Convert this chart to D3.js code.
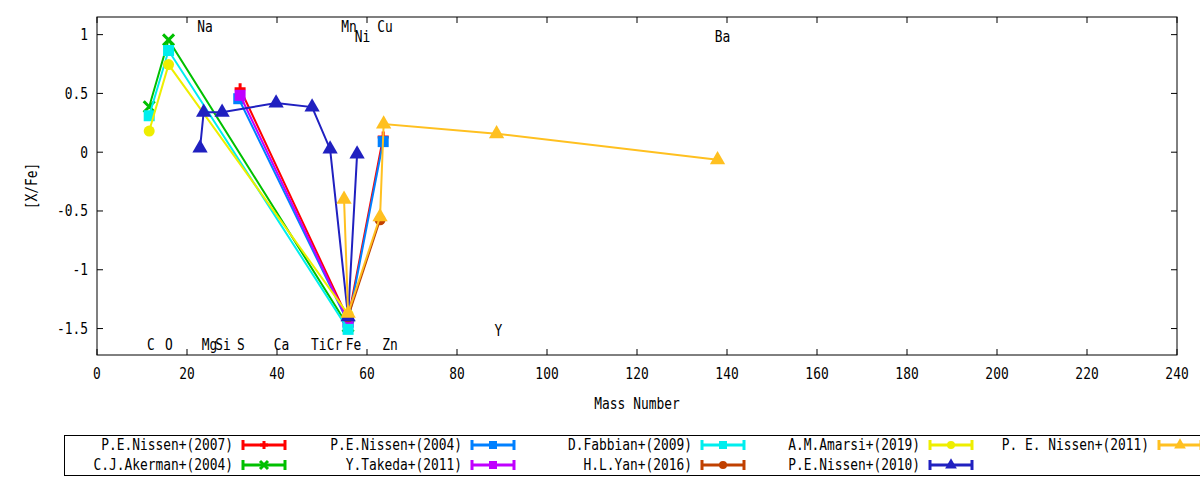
<!DOCTYPE html>
<html><head><meta charset="utf-8">
<script src="https://cdn.jsdelivr.net/npm/d3@7"></script>
<style>body{margin:0;background:#fff}svg text{font-family:"DejaVu Sans Mono",monospace;font-size:15px;fill:#000}</style>
</head><body><svg id="c" width="1200" height="480"></svg>
<script>
// ---- data ----
const seriesNames = ["P.E.Nissen+(2007)","C.J.Akerman+(2004)","P.E.Nissen+(2004)","Y.Takeda+(2011)","D.Fabbian+(2009)","H.L.Yan+(2016)","A.M.Amarsi+(2019)","P.E.Nissen+(2010)","P. E. Nissen+(2011)"];
const seriesColors = ["#ff0000","#00c000","#0080ff","#c000ff","#00eeee","#c04000","#eeee00","#2020c0","#ffc020"];
const seriesMarkers = ["plus","cross","square","square","square","circle","circle","triangle","triangle"];
const massNissen2007 = [31.8, 55.8, 63.6];
const valNissen2007  = [0.54, -1.42, 0.13];
const massAkerman2004 = [11.6, 15.9, 55.8];
const valAkerman2004  = [0.387, 0.955, -1.48];
const massNissen2004 = [31.5, 55.8, 63.6];
const valNissen2004  = [0.455, -1.45, 0.09];
const massTakeda2011 = [31.8, 55.8];
const valTakeda2011  = [0.484, -1.44];
const massFabbian2009 = [11.6, 15.9, 55.8];
const valFabbian2009  = [0.31, 0.865, -1.507];
const massYan2016 = [55.8, 62.9];
const valYan2016  = [-1.40, -0.575];
const massAmarsi2019 = [11.6, 15.9, 55.8];
const valAmarsi2019  = [0.18, 0.745, -1.38];
const massNissen2010 = [22.9, 23.7, 27.8, 39.8, 47.8, 51.8, 55.8, 57.8];
const valNissen2010  = [0.035, 0.34, 0.34, 0.418, 0.384, 0.026, -1.40, -0.016];
const massNissen2011 = [54.9, 55.8, 62.9, 63.7, 88.8, 137.9];
const valNissen2011  = [-0.40, -1.37, -0.55, 0.24, 0.157, -0.065];
const elemNames = ["Na","Mn","Cu","Ni","Ba","C","O","Mg","Si","S","Ca","Ti","Cr","Fe","Zn","Y"];
const elemMass  = [24, 56, 64, 59, 139, 12, 16, 25, 28, 32, 41, 49.3, 52.8, 57, 65.1, 89.2];
const elemY     = [1.068, 1.068, 1.068, 0.982, 0.982, -1.635, -1.635, -1.635, -1.635, -1.635, -1.635, -1.635, -1.635, -1.635, -1.635, -1.515];
const xTicks = [0,20,40,60,80,100,120,140,160,180,200,220,240];
const yTicks = [-1.5,-1,-0.5,0,0.5,1];
const xLabel = "Mass Number", yLabel = "[X/Fe]";

const seriesMass = [massNissen2007,massAkerman2004,massNissen2004,massTakeda2011,massFabbian2009,massYan2016,massAmarsi2019,massNissen2010,massNissen2011];
const seriesVal  = [valNissen2007,valAkerman2004,valNissen2004,valTakeda2011,valFabbian2009,valYan2016,valAmarsi2019,valNissen2010,valNissen2011];

const L=97,R=1177,T=17,B=355;
const svg=d3.select("#c");
const x=d3.scaleLinear().domain([0,240]).range([L,R]);
const y=d3.scaleLinear().domain([-1.725,1.15]).range([B,T]);
const SX=0.86;
function txt(g,px,py,s,anchor,rot){
  return g.append("text").attr("transform",`translate(${px},${py})${rot?" rotate("+rot+")":""} scale(${SX},1)`)
    .attr("text-anchor",anchor).attr("dominant-baseline","central").text(s);
}

// axes (gnuplot style: inward ticks, mirrored)
const tl=6;
const ax=svg.append("g");
xTicks.forEach(t=>{
  ax.append("line").attr("x1",x(t)).attr("x2",x(t)).attr("y1",B).attr("y2",B-tl).attr("stroke","#000");
  ax.append("line").attr("x1",x(t)).attr("x2",x(t)).attr("y1",T).attr("y2",T+tl).attr("stroke","#000");
  txt(ax,x(t),374,d3.format("d")(t),"middle");
});
yTicks.forEach(t=>{
  ax.append("line").attr("x1",L).attr("x2",L+tl).attr("y1",y(t)).attr("y2",y(t)).attr("stroke","#000");
  ax.append("line").attr("x1",R).attr("x2",R-tl).attr("y1",y(t)).attr("y2",y(t)).attr("stroke","#000");
  txt(ax,88,y(t),String(t),"end");
});
ax.append("rect").attr("x",L).attr("y",T).attr("width",R-L).attr("height",B-T).attr("fill","none").attr("stroke","#000");
txt(svg,(L+R)/2,404,xLabel,"middle");
txt(svg,32,(T+B)/2,yLabel,"middle",-90);

// element labels
elemNames.forEach((n,i)=>{ txt(svg,x(elemMass[i]),y(elemY[i]),n,"middle"); });

function marker(g,type,cx,cy,col,s){
  if(type==="square") g.append("rect").attr("x",cx-s/2).attr("y",cy-s/2).attr("width",s).attr("height",s).attr("fill",col);
  else if(type==="circle") g.append("circle").attr("cx",cx).attr("cy",cy).attr("r",s/2).attr("fill",col);
  else if(type==="triangle") g.append("path").attr("d",d3.symbol(d3.symbolTriangle,s*s*0.6)()).attr("transform","translate("+cx+","+cy+")").attr("fill",col);
  else if(type==="plus") g.append("path").attr("d",`M${cx-s/2},${cy}H${cx+s/2}M${cx},${cy-s/2}V${cy+s/2}`).attr("stroke",col).attr("stroke-width",3).attr("fill","none");
  else if(type==="cross") g.append("path").attr("d",`M${cx-s/2},${cy-s/2}L${cx+s/2},${cy+s/2}M${cx-s/2},${cy+s/2}L${cx+s/2},${cy-s/2}`).attr("stroke",col).attr("stroke-width",3).attr("fill","none");
}

const line=d3.line().x(d=>x(d[0])).y(d=>y(d[1]));
seriesNames.forEach((nm,i)=>{
  const g=svg.append("g");
  const pts=seriesMass[i].map((m,j)=>[m,seriesVal[i][j]]);
  g.append("path").datum(pts).attr("d",line).attr("fill","none").attr("stroke",seriesColors[i]).attr("stroke-width",2);
  const sz = seriesMarkers[i]==="triangle"?13:11;
  pts.forEach(p=>marker(g,seriesMarkers[i],x(p[0]),y(p[1]),seriesColors[i],sz));
});

// legend
const lg=svg.append("g");
lg.append("rect").attr("x",64.5).attr("y",435.5).attr("width",1150).attr("height",40).attr("fill","none").attr("stroke","#000");
const colTextEnd=[233,462,692,920,1149];
seriesNames.forEach((nm,i)=>{
  const col=Math.floor(i/2), row=i%2;
  const ty=445+row*20, te=colTextEnd[col];
  txt(lg,te,ty,nm,"end");
  const x1=te+10,x2=te+52,c=seriesColors[i];
  lg.append("line").attr("x1",x1).attr("x2",x2).attr("y1",ty).attr("y2",ty).attr("stroke",c).attr("stroke-width",3);
  lg.append("line").attr("x1",x1).attr("x2",x1).attr("y1",ty-5).attr("y2",ty+5).attr("stroke",c).attr("stroke-width",3);
  lg.append("line").attr("x1",x2).attr("x2",x2).attr("y1",ty-5).attr("y2",ty+5).attr("stroke",c).attr("stroke-width",3);
  marker(lg,seriesMarkers[i],(x1+x2)/2,ty,c,seriesMarkers[i]==="triangle"?10:8);
});
</script></body></html>
